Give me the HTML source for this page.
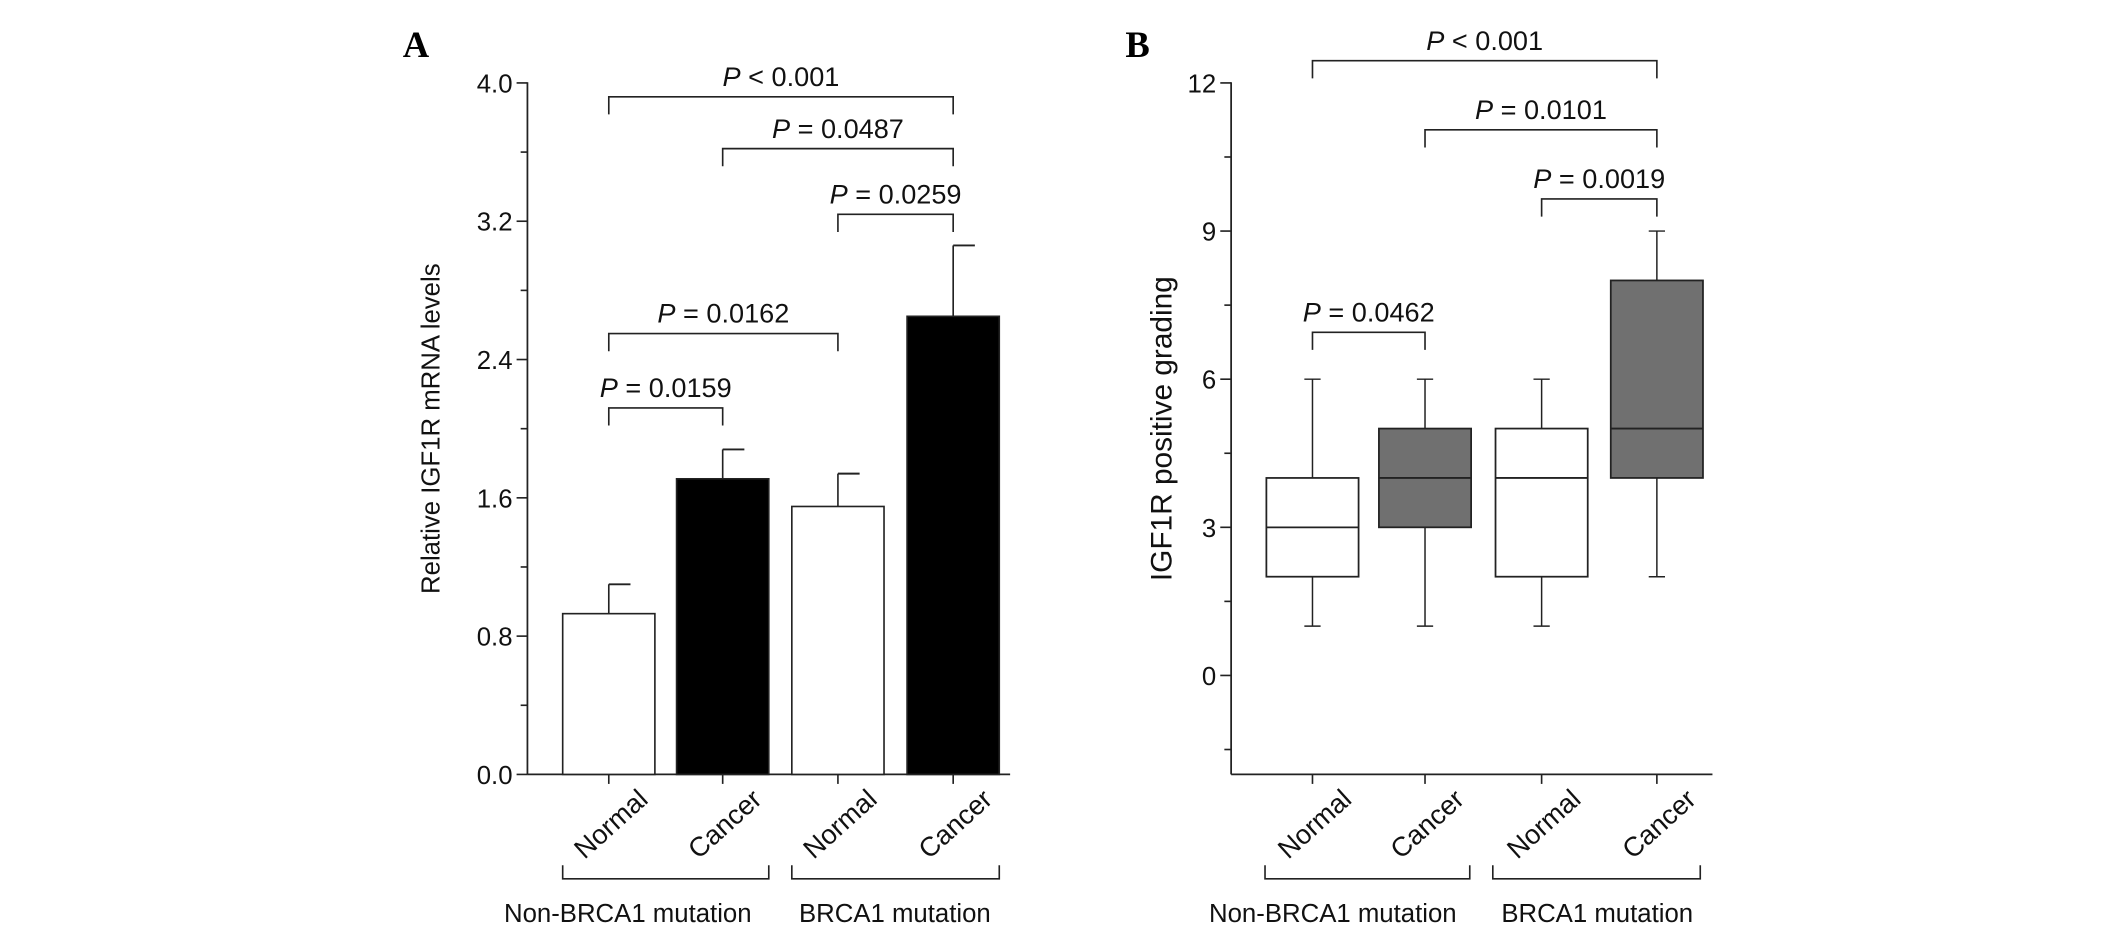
<!DOCTYPE html>
<html><head><meta charset="utf-8"><style>
html,body{margin:0;padding:0;background:#fff;}
svg{display:block;font-family:"Liberation Sans",Arial,sans-serif;}
</style></head><body>
<svg id="fig" width="2126" height="936" viewBox="0 0 1568 690" xmlns="http://www.w3.org/2000/svg">
<rect width="1568" height="690" fill="#fff"/>
<g id="pa"></g>
<g id="pb"></g>
</svg>
<script>
// Panel A data
const catsA = ["Normal","Cancer","Normal","Cancer"];
const meansA = [0.93, 1.71, 1.55, 2.65];
const errA = [1.10, 1.88, 1.74, 3.06];
const fillsA = ["#fff","#000","#fff","#000"];
const ticksA = [0.0,0.8,1.6,2.4,3.2,4.0];
const tickLabelsA = ["0.0","0.8","1.6","2.4","3.2","4.0"];
const pLabelsA = ["< 0.001","= 0.0487","= 0.0259","= 0.0162","= 0.0159"];
const pPairsA = [[0,3],[1,3],[2,3],[0,2],[0,1]];
const pLevelsA = [3.92, 3.62, 3.24, 2.55, 2.12];
// Panel B data
const catsB = ["Normal","Cancer","Normal","Cancer"];
const boxMin = [1,1,1,2];
const boxQ1 = [2,3,2,4];
const boxMed = [3,4,4,5];
const boxQ3 = [4,5,5,8];
const boxMax = [6,6,6,9];
const fillsB = ["#fff","#707070","#fff","#707070"];
const ticksB = [0,3,6,9,12];
const tickLabelsB = ["0","3","6","9","12"];
const pLabelsB = ["< 0.001","= 0.0101","= 0.0019","= 0.0462"];
const pPairsB = [[0,3],[1,3],[2,3],[0,1]];
const pLevelsB = [12.45, 11.05, 9.65, 6.95];

const NS="http://www.w3.org/2000/svg";
function mk(parent,tag,attrs,name,txt){const e=document.createElementNS(NS,tag);for(const k in attrs)e.setAttribute(k,attrs[k]);


if(txt!==undefined)e.textContent=txt;parent.appendChild(e);return e;}
function ptext(parent,x,y,label,size,name){const t=mk(parent,'text',{x:x,y:y,'text-anchor':'middle','font-size':size,fill:'#111'},name);
const a=document.createElementNS(NS,'tspan');a.setAttribute('font-style','italic');a.textContent='P';t.appendChild(a);
const b=document.createElementNS(NS,'tspan');b.textContent=' '+label;t.appendChild(b);return t;}

function panel(g,o){
  const y=v=>o.y0+(v-o.vmin)/(o.vmax-o.vmin)*(o.y1-o.y0);
  const xc=i=>o.cx[i];
  mk(g,'line',{x1:o.ax,y1:y(o.vmax)-0.5,x2:o.ax,y2:o.base,stroke:'#222','stroke-width':1.3},'y-axis-line');
  mk(g,'line',{x1:o.ax,y1:o.base,x2:o.axEnd,y2:o.base,stroke:'#222','stroke-width':1.3},'x-axis-line');
  o.ticks.forEach((t,i)=>{
    mk(g,'line',{x1:o.ax-8,y1:y(t),x2:o.ax,y2:y(t),stroke:'#222','stroke-width':1.2},'y-tick');
    mk(g,'text',{x:o.ax-11,y:y(t)+7,'text-anchor':'end','font-size':19,fill:'#111'},'y-tick-label',o.tickLabels[i]);
  });
  o.minor.forEach(t=>mk(g,'line',{x1:o.ax-5,y1:y(t),x2:o.ax,y2:y(t),stroke:'#222','stroke-width':1.2},'y-minor-tick'));
  o.cats.forEach((c,i)=>{
    mk(g,'line',{x1:xc(i),y1:o.base,x2:xc(i),y2:o.base+7,stroke:'#222','stroke-width':1.2},'x-tick');
    mk(g,'text',{x:0,y:0,'text-anchor':'end','font-size':20,fill:'#111',transform:`translate(${xc(i)+30},${o.base+20}) rotate(-42)`},'x-tick-label',c);
  });
  o.groups.forEach((gr,i)=>{
    mk(g,'path',{d:`M${gr[0]},${638}V${648}H${gr[1]}V${638}`,fill:'none',stroke:'#222','stroke-width':1.2},'group-bracket');
    mk(g,'text',{x:gr[2],y:680,'text-anchor':'middle','font-size':19,fill:'#111'},'group-label',gr[3]);
  });
  mk(g,'text',{x:0,y:0,'text-anchor':'middle','font-size':o.ytSize,fill:'#111',transform:`translate(${o.ytx},316) rotate(-90)`},'y-axis-title',o.ytitle);
  mk(g,'text',{x:o.lx,y:42,'font-size':27,'font-weight':'bold','font-family':'Liberation Serif, serif',fill:'#000'},'panel-letter',o.letter);
  o.pPairs.forEach((p,i)=>{
    const yy=y(o.pLevels[i]);
    mk(g,'path',{d:`M${xc(p[0])},${yy+13}V${yy}H${xc(p[1])}V${yy+13}`,fill:'none',stroke:'#222','stroke-width':1.2},'significance-bracket');
    ptext(g,(xc(p[0])+xc(p[1]))/2,yy-8,o.pLabels[i],20,'p-value-label');
  });
  return y;
}

const ga=document.getElementById('pa');
const yA=panel(ga,{y0:571,y1:61,vmin:0,vmax:4,ax:389,axEnd:745,base:571,cx:[449,533,618,703],
 ticks:ticksA,tickLabels:tickLabelsA,minor:[0.4,1.2,2.0,2.8,3.6],cats:catsA,
 groups:[[415,567,463,"Non-BRCA1 mutation"],[584,737,660,"BRCA1 mutation"]],
 ytitle:"Relative IGF1R mRNA levels",ytSize:19,ytx:324,lx:297,letter:"A",
 pPairs:pPairsA,pLevels:pLevelsA,pLabels:pLabelsA});
meansA.forEach((m,i)=>{
  const cx=[449,533,618,703][i];
  mk(ga,'line',{x1:cx,y1:yA(m),x2:cx,y2:yA(errA[i]),stroke:'#222','stroke-width':1.2},'error-bar');
  mk(ga,'line',{x1:cx,y1:yA(errA[i]),x2:cx+16,y2:yA(errA[i]),stroke:'#222','stroke-width':1.4},'error-cap');
  mk(ga,'rect',{x:cx-34,y:yA(m),width:68,height:yA(0)-yA(m),fill:fillsA[i],stroke:'#222','stroke-width':1.2},'bar-'+catsA[i].toLowerCase()+'-'+(i<2?'non-brca1':'brca1'));
});

const gb=document.getElementById('pb');
const yB=panel(gb,{y0:498,y1:61,vmin:0,vmax:12,ax:908,axEnd:1263,base:571,cx:[968,1051,1137,1222],
 ticks:ticksB,tickLabels:tickLabelsB,minor:[-1.5,1.5,4.5,7.5,10.5],cats:catsB,
 groups:[[933,1084,983,"Non-BRCA1 mutation"],[1101,1254,1178,"BRCA1 mutation"]],
 ytitle:"IGF1R positive grading",ytSize:22,ytx:864,lx:830,letter:"B",
 pPairs:pPairsB,pLevels:pLevelsB,pLabels:pLabelsB});
boxMed.forEach((m,i)=>{
  const cx=[968,1051,1137,1222][i];
  mk(gb,'line',{x1:cx,y1:yB(boxMax[i]),x2:cx,y2:yB(boxMin[i]),stroke:'#222','stroke-width':1.1},'whisker');
  mk(gb,'line',{x1:cx-6,y1:yB(boxMax[i]),x2:cx+6,y2:yB(boxMax[i]),stroke:'#222','stroke-width':1.1},'whisker-cap');
  mk(gb,'line',{x1:cx-6,y1:yB(boxMin[i]),x2:cx+6,y2:yB(boxMin[i]),stroke:'#222','stroke-width':1.1},'whisker-cap');
  mk(gb,'rect',{x:cx-34,y:yB(boxQ3[i]),width:68,height:yB(boxQ1[i])-yB(boxQ3[i]),fill:fillsB[i],stroke:'#222','stroke-width':1.3},'box-'+catsB[i].toLowerCase()+'-'+(i<2?'non-brca1':'brca1'));
  mk(gb,'line',{x1:cx-34,y1:yB(m),x2:cx+34,y2:yB(m),stroke:'#222','stroke-width':1.3},'median-line');
});
</script>
</body></html>
